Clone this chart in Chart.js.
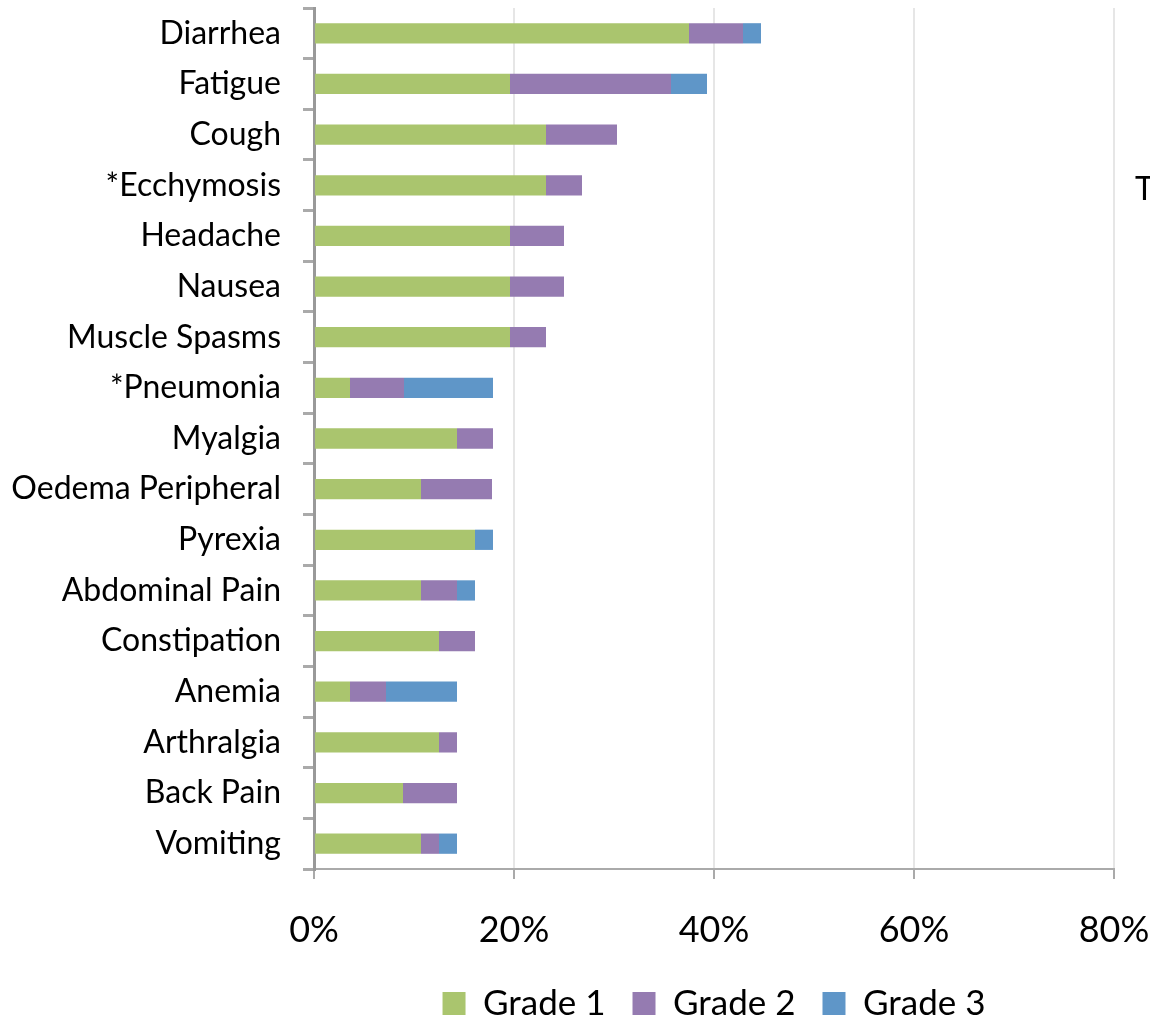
<!DOCTYPE html>
<html>
<head>
<meta charset="utf-8">
<script src="https://cdn.jsdelivr.net/npm/chart.js@4"></script>
<style>
  body { margin: 0; background: white; }
  #wrap { position: relative; width: 1150px; height: 1018px; overflow: hidden; }
  #stray { position: absolute; left: 1135px; top: 168px; font: 32px Lato, sans-serif; color: #000; }
</style>
</head>
<body>
<div id="wrap">
  <canvas id="myChart" width="1150" height="1018"></canvas>
  <div id="stray">T</div>
</div>
<script>
const categories = ['Diarrhea','Fatigue','Cough','*Ecchymosis','Headache','Nausea','Muscle Spasms','*Pneumonia',
  'Myalgia','Oedema Peripheral','Pyrexia','Abdominal Pain','Constipation','Anemia','Arthralgia','Back Pain','Vomiting']

// percent of patients per grade
const grade1 = [37.5,19.6,23.2,23.2,19.6,19.6,19.6,3.6,14.3,10.7,16.1,10.7,12.5,3.6,12.5,8.9,10.7]
const grade2 = [5.4,16.1,7.1,3.6,5.4,5.4,3.6,5.4,3.6,7.1,0,3.6,3.6,3.6,1.8,5.4,1.8]
const grade3 = [1.8,3.6,0,0,0,0,0,8.9,0,0,1.8,1.8,0,7.1,0,0,1.8]

const xTicks = [0,20,40,60,80]

const font = 'Lato, sans-serif'

new Chart('myChart', {
  type: 'bar',
  data: {
    labels: categories,
    datasets: [
      { label: 'Grade 1', data: grade1, backgroundColor: '#aac56e' },
      { label: 'Grade 2', data: grade2, backgroundColor: '#957bb1' },
      { label: 'Grade 3', data: grade3, backgroundColor: '#5f96c8' }
    ]
  },
  options: {
    indexAxis: 'y',
    responsive: false,
    animation: false,
    categoryPercentage: 0.8,
    barPercentage: 0.5,
    layout: { padding: { left: 0, right: 0, top: 8, bottom: -13 } },
    plugins: {
      tooltip: { enabled: false },
      legend: {
        position: 'bottom',
        fullSize: false,
        labels: {
          color: '#000',
          font: { family: font, size: 35 },
          boxWidth: 23, boxHeight: 23,
          padding: 27
        }
      }
    },
    scales: {
      x: {
        stacked: true,
        min: 0, max: 80,
        afterBuildTicks: s => { s.ticks = xTicks.map(v => ({ value: v })) },
        afterFit: s => { s.height = 90; s.paddingRight = 36 },
        ticks: {
          callback: v => v + '%',
          color: '#000',
          font: { family: font, size: 36 },
          padding: 30
        },
        grid: { color: '#e6e6e6', lineWidth: 2, tickLength: 10, tickColor: '#aaa' },
        border: { color: '#aaa', width: 2 }
      },
      y: {
        stacked: true,
        afterFit: s => { s.width = 314; s.paddingTop = 0; s.paddingBottom = 0 },
        ticks: {
          color: '#000',
          font: { family: font, size: 32 },
          padding: 22
        },
        grid: { drawOnChartArea: false, tickLength: 11, color: '#aaa', lineWidth: 3 },
        border: { color: '#999', width: 3 }
      }
    }
  }
})
</script>
</body>
</html>
